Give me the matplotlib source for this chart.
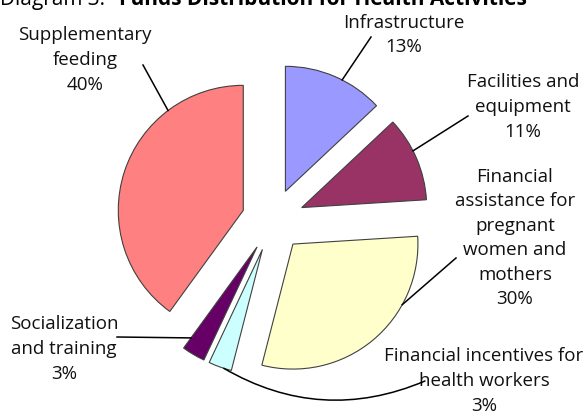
import numpy as np
import matplotlib
matplotlib.use("Agg")
import matplotlib.pyplot as plt

plt.rcParams['font.family'] = ['Open Sans', 'DejaVu Sans']

# data
labels = ["Infrastructure", "Facilities and\nequipment", "Financial\nassistance for\npregnant\nwomen and\nmothers",
          "Financial incentives for\nhealth workers", "Socialization\nand training", "Supplementary\nfeeding"]
shares = [13, 11, 30, 3, 3, 40]
colors = ["#9999FF", "#993366", "#FFFFCC", "#CCFFFF", "#660066", "#FF8080"]

W, H = 587, 417
CX, CY, R = 273, 220, 125   # pie centre and radius in pixels


def px(x, y):
    # pixel position -> data coords (pie radius = 1)
    return (x - CX) / R, (CY - y) / R


fig = plt.figure(figsize=(W / 100, H / 100), dpi=100)
ax = fig.add_axes([0, 0, 1, 1])

wedges, _ = ax.pie(shares, colors=colors, startangle=90, counterclock=False,
                   explode=[0.25] * len(shares),
                   wedgeprops=dict(edgecolor="#404040", linewidth=0.8))
ax.set_xlim(-CX / R, (W - CX) / R)
ax.set_ylim((CY - H) / R, CY / R)
ax.axis("off")

# label placement: text centre (px), leader end (px), angle on the wedge, radius fraction
layout = [
    ((404, 35), (371, 37), 63, 1.0),
    ((523, 107), (468, 116), 27, 1.0),
    ((515, 238), (456, 258), -29, 1.0),
    ((484, 381), (425, 381), -108, 1.0),
    ((64, 349), (117, 337), -126, 0.90),
    ((85, 60), (143, 65), 127, 1.0),
]

for w, lab, s, (tpos, lend, ang, rf) in zip(wedges, labels, shares, layout):
    cx, cy = w.center
    a = np.deg2rad(ang)
    x0, y0 = cx + rf * w.r * np.cos(a), cy + rf * w.r * np.sin(a)
    tx, ty = px(*tpos)
    ax.text(tx, ty, lab + "\n" + str(s) + "%", ha="center", va="center",
            fontsize=13.5, linespacing=1.47, color="#111111")
    lx, ly = px(*lend)
    if ang == -108:
        # curved leader for the thin slice
        ax.annotate("", xy=(x0, y0), xytext=(lx, ly),
                    arrowprops=dict(arrowstyle="-", color="black", lw=1.1,
                                    shrinkA=0, shrinkB=0,
                                    connectionstyle="arc3,rad=-0.25"))
    else:
        ax.plot([x0, lx], [y0, ly], color="black", lw=1.1)

fig.text(0.0, 1 - 5 / H, "Diagram 3:", fontsize=15, ha="left", va="baseline")
fig.text(119 / W, 1 - 5 / H, "Funds Distribution for Health Activities",
         fontsize=15, fontweight="bold", ha="left", va="baseline")

fig.savefig("out.png", dpi=100)
